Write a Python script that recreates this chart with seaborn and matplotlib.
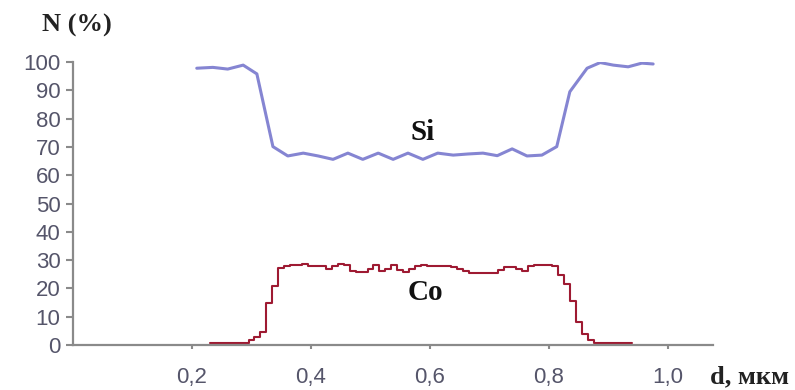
import matplotlib
matplotlib.use("Agg")
import matplotlib.pyplot as plt
import seaborn as sns
import pandas as pd
import numpy as np

# ---- data ----
si_x = [0.208, 0.235, 0.260, 0.286, 0.309, 0.336, 0.361, 0.387, 0.412, 0.437,
        0.462, 0.487, 0.513, 0.538, 0.563, 0.588, 0.613, 0.639, 0.664, 0.689,
        0.713, 0.738, 0.763, 0.788, 0.813, 0.835, 0.864, 0.886, 0.908, 0.933,
        0.956, 0.975]
si_y = [97.8, 98.1, 97.5, 98.9, 95.8, 70.1, 66.8, 67.8, 66.8, 65.6,
        67.8, 65.6, 67.8, 65.6, 67.8, 65.6, 67.8, 67.1, 67.5, 67.8,
        66.9, 69.3, 66.8, 67.1, 70.1, 89.5, 97.8, 99.8, 98.9, 98.3,
        99.6, 99.3]

co_x = [0.23, 0.24, 0.25, 0.26, 0.27, 0.28, 0.29, 0.30, 0.31, 0.32,
        0.33, 0.34, 0.35, 0.36, 0.37, 0.38, 0.39, 0.40, 0.41, 0.42,
        0.43, 0.44, 0.45, 0.46, 0.47, 0.48, 0.49, 0.50, 0.51, 0.52,
        0.53, 0.54, 0.55, 0.56, 0.57, 0.58, 0.59, 0.60, 0.61, 0.62,
        0.63, 0.64, 0.65, 0.66, 0.67, 0.68, 0.69, 0.70, 0.71, 0.72,
        0.73, 0.74, 0.75, 0.76, 0.77, 0.78, 0.79, 0.80, 0.81, 0.82,
        0.83, 0.84, 0.85, 0.86, 0.87, 0.88, 0.89, 0.90, 0.91, 0.92,
        0.93, 0.94]
co_y = [0.8, 0.8, 0.8, 0.8, 0.8, 0.8, 0.8, 1.8, 3.0, 4.5,
        15.0, 21.0, 27.1, 28.0, 28.3, 28.3, 28.6, 28.0, 28.0, 28.0,
        27.0, 27.8, 28.5, 28.3, 26.0, 25.9, 25.9, 27.0, 28.2, 26.0,
        27.0, 28.2, 26.5, 25.9, 27.0, 27.8, 28.4, 28.0, 27.8, 27.8,
        27.8, 27.7, 27.0, 26.0, 25.4, 25.3, 25.3, 25.3, 25.6, 26.5,
        27.5, 27.6, 26.7, 26.0, 28.0, 28.3, 28.3, 28.3, 27.8, 24.7,
        21.5, 15.5, 8.0, 4.0, 1.8, 0.8, 0.8, 0.8, 0.8, 0.8,
        0.8, 0.8]

y_ticks = [0, 10, 20, 30, 40, 50, 60, 70, 80, 90, 100]
x_ticks = [0.2, 0.4, 0.6, 0.8, 1.0]
x_ticklabels = ["0,2", "0,4", "0,6", "0,8", "1,0"]

si_df = pd.DataFrame({"d": si_x, "N": si_y})
co_df = pd.DataFrame({"d": co_x, "N": co_y})

sns.set_style("white")
plt.rcParams["font.family"] = ["Liberation Sans", "DejaVu Sans"]

fig = plt.figure(figsize=(7.95, 3.9), dpi=100)
ax = fig.add_axes([73 / 795, 45 / 390, 640 / 795, 283 / 390])

sns.lineplot(data=si_df, x="d", y="N", ax=ax, color="#8585d2", linewidth=2.2,
             estimator=None, sort=False)
sns.lineplot(data=co_df, x="d", y="N", ax=ax, color="#9e1a32", linewidth=1.5,
             estimator=None, sort=False, drawstyle="steps-mid")

ax.set_xlim(0, 1.0756)
ax.set_ylim(0, 100)
ax.set_xticks(x_ticks)
ax.set_xticklabels(x_ticklabels)
ax.set_yticks(y_ticks)
ax.set_xlabel("")
ax.set_ylabel("")

for s in ["top", "right"]:
    ax.spines[s].set_visible(False)
for s in ["left", "bottom"]:
    ax.spines[s].set_color("#8a8a8a")
    ax.spines[s].set_linewidth(1.6)

tick_color = "#55556a"
ax.tick_params(axis="y", direction="out", length=5, width=1.5, color="#8a8a8a",
               labelsize=16, labelcolor=tick_color, pad=4, left=True)
ax.tick_params(axis="x", direction="out", length=3, width=1.5, color="#8a8a8a",
               labelsize=16, labelcolor=tick_color, pad=13, bottom=True)

serif = ["Liberation Serif", "DejaVu Serif"]
ax.text(0.587, 75, "Si", fontsize=21, fontweight="bold", family=serif,
        ha="center", va="center", color="#111111")
ax.text(0.592, 18.7, "Co", fontsize=21, fontweight="bold", family=serif,
        ha="center", va="center", color="#111111")
fig.text(77 / 795, 1 - 25 / 390, "N (%)", fontsize=19, fontweight="bold",
         family=serif, ha="center", va="center", color="#222222")
fig.text(750 / 795, 1 - 377 / 390, "d, мкм", fontsize=19, fontweight="bold",
         family=serif, ha="center", va="center", color="#222222")

fig.savefig("out.png", dpi=100)
